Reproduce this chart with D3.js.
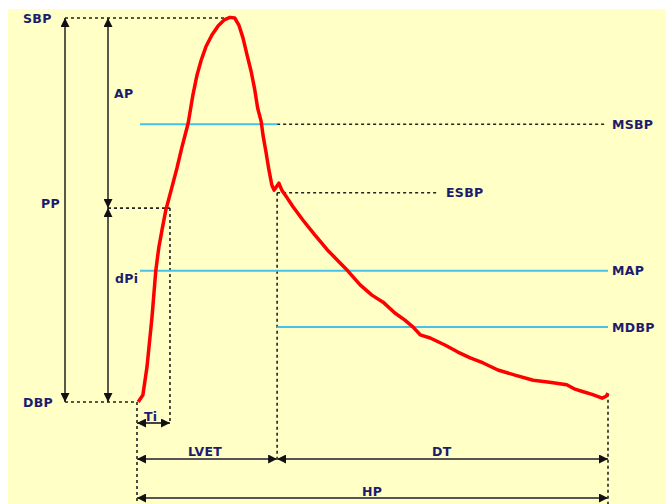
<!DOCTYPE html>
<html>
<head>
    <title>Arterial pressure waveform</title>
    <script src="https://d3js.org/d3.v7.min.js"></script>
    <style>
        body { margin: 0; background: #fff; }
        svg { display: block; }
        .lbl { font-family: "DejaVu Sans", sans-serif; font-weight: bold; font-size: 12.5px; letter-spacing: 0.3px; fill: #1c1c6e; }
    </style>
</head>
<body>
    <div id="chart"></div>
    <script>
        // pressure wave: time (ms), pressure (mmHg)
        const waveT = [2, 10, 17, 25.5, 32, 37, 42.5, 49, 58, 68, 76, 87, 95, 102, 109, 117, 127, 138, 148, 158,
            166, 173, 180, 187, 194, 200, 205, 211, 214, 219, 224, 229, 233, 238, 241, 246, 255, 265, 282, 302,
            323, 340, 358, 379, 399, 418, 438, 455, 469, 481, 498, 523, 545, 566, 588, 613, 642, 673, 701, 730,
            744, 758, 773, 790, 797, 800];
        const waveP = [70, 71.1, 75.5, 83.3, 90.6, 94.1, 96.9, 100, 103.1, 106.6, 109.7, 113.6, 118, 121.1, 123.4, 125.5, 127.3, 128.8, 129.7, 130.1,
            130, 128.9, 126.9, 124.2, 121.6, 118.8, 115.9, 113.8, 111.7, 109.1, 106.3, 103.9, 103.1, 103.8, 104.2, 103.1, 101.9, 100.5, 98.4, 96.1,
            93.8, 92.2, 90.5, 88.3, 86.7, 85.6, 83.9, 82.8, 81.7, 80.5, 80, 78.9, 77.8, 76.9, 76.1, 75, 74.2, 73.4, 73.1, 72.7,
            72, 71.6, 71.2, 70.6, 70.9, 71.4];

        // pressure levels (mmHg)
        const SBP = 130, DBP = 70, DPI = 100.3, MSBP = 113.4, ESBP = 102.7, MAP = 90.5, MDBP = 81.7;
        // times (ms)
        const TI = 56, LVET = 238, HP = 800;

        const width = 666, height = 504;
        const x = d3.scaleLinear().domain([0, HP]).range([137, 608]);
        const y = d3.scaleLinear().domain([DBP, SBP]).range([402, 18]);

        const svg = d3.select("#chart").append("svg")
            .attr("width", width).attr("height", height);

        svg.append("rect").attr("x", 8).attr("y", 9)
            .attr("width", width - 8).attr("height", height - 9)
            .attr("fill", "#ffffc6");

        const defs = svg.append("defs");
        defs.append("marker").attr("id", "arr")
            .attr("viewBox", "0 0 8 8").attr("refX", 8).attr("refY", 4)
            .attr("markerWidth", 9).attr("markerHeight", 9)
            .attr("markerUnits", "userSpaceOnUse")
            .attr("orient", "auto-start-reverse")
            .append("path").attr("d", "M0,0L8,4L0,8Z").attr("fill", "#111");

        function dotted(x1, y1, x2, y2) {
            svg.append("line").attr("x1", x1).attr("y1", y1).attr("x2", x2).attr("y2", y2)
                .attr("stroke", "#222").attr("stroke-width", 1.6).attr("stroke-dasharray", "3,3");
        }
        function arrow(x1, y1, x2, y2, col, w) {
            svg.append("line").attr("x1", x1).attr("y1", y1).attr("x2", x2).attr("y2", y2)
                .attr("stroke", col).attr("stroke-width", w)
                .attr("marker-start", "url(#arr)").attr("marker-end", "url(#arr)");
        }
        function blue(x1, x2, p) {
            svg.append("line").attr("x1", x1).attr("x2", x2).attr("y1", y(p)).attr("y2", y(p))
                .attr("stroke", "#44c2ea").attr("stroke-width", 2);
        }
        function label(t, lx, ly) {
            svg.append("text").attr("class", "lbl").attr("x", lx).attr("y", ly)
                .attr("dy", "0.36em").text(t);
        }

        // dotted guides
        dotted(65, y(SBP), 230, y(SBP));
        dotted(65, y(DBP), x(0), y(DBP));
        dotted(108, y(DPI), x(TI), y(DPI));
        dotted(x(TI), y(DPI), x(TI), 423);
        dotted(x(LVET), y(MSBP), 605, y(MSBP));
        dotted(x(LVET), y(ESBP), 438, y(ESBP));
        dotted(x(LVET), y(ESBP), x(LVET), 459);
        dotted(x(0), y(DBP), x(0), height);
        dotted(x(HP), y(71.3), x(HP), height);

        // level lines
        blue(140, x(LVET), MSBP);
        blue(140, x(HP), MAP);
        blue(x(LVET), x(HP), MDBP);

        // vertical arrows
        arrow(65, y(SBP), 65, y(DBP), "#222", 1.5);
        arrow(108, y(SBP), 108, y(DPI), "#222", 1.5);
        arrow(108, y(DPI), 108, y(DBP), "#222", 1.5);

        // horizontal arrows
        arrow(x(0), 423, x(TI), 423, "#444", 2);
        arrow(x(0), 459, x(LVET), 459, "#555", 2);
        arrow(x(LVET), 459, x(HP), 459, "#555", 2);
        arrow(x(0), 498, x(HP), 498, "#555", 2);

        // pressure curve
        const wave = waveT.map((t, i) => [t, waveP[i]]);
        svg.append("path").datum(wave)
            .attr("fill", "none").attr("stroke", "#ff0000").attr("stroke-width", 3.5)
            .attr("stroke-linejoin", "round")
            .attr("d", d3.line().x(d => x(d[0])).y(d => y(d[1])));

        // labels
        label("SBP", 23, y(SBP));
        label("DBP", 23, y(DBP));
        label("PP", 41, 203);
        label("AP", 114, 93);
        label("dPi", 115, 278);
        label("MSBP", 612, y(MSBP));
        label("ESBP", 446, y(ESBP));
        label("MAP", 612, y(MAP));
        label("MDBP", 612, y(MDBP));
        label("Ti", 144, 416);
        label("LVET", 188, 451);
        label("DT", 432, 451);
        label("HP", 362, 491);
    </script>
</body>
</html>
